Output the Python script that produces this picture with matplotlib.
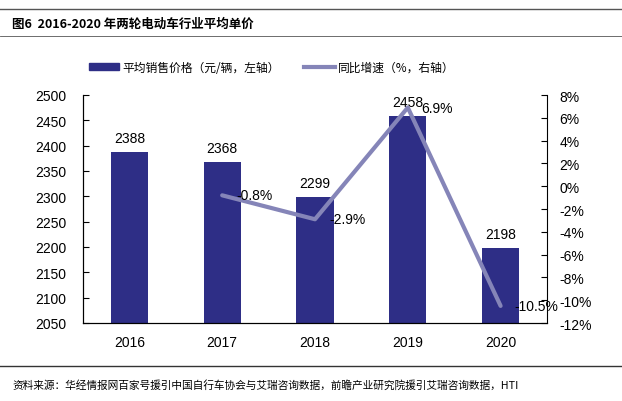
import matplotlib
matplotlib.use("Agg")
import matplotlib.pyplot as plt
from matplotlib.lines import Line2D
from matplotlib.patches import Patch

plt.rcParams['font.family'] = ['Liberation Sans', 'Noto Sans CJK SC', 'DejaVu Sans']
CJK = ['Noto Sans CJK SC', 'DejaVu Sans']

years = ["2016", "2017", "2018", "2019", "2020"]
price = [2388, 2368, 2299, 2458, 2198]
growth_years = ["2017", "2018", "2019", "2020"]
growth = [-0.8, -2.9, 6.9, -10.5]

BAR = "#2E2E86"
LINE = "#8585B8"

fig = plt.figure(figsize=(6.22, 4.02), dpi=100)
W, H = 622, 402
ax = fig.add_axes([83 / W, 1 - 324 / H, (547 - 83) / W, (324 - 96) / H])

x = list(range(len(years)))
bars = ax.bar(x, price, width=0.4, color=BAR, zorder=2)
ax.set_ylim(2050, 2500)
ax.set_yticks(range(2050, 2501, 50))
ax.set_xlim(-0.5, len(years) - 0.5)
ax.set_xticks(x)
ax.set_xticklabels(years)
for b, v in zip(bars, price):
    ax.annotate(str(v), (b.get_x() + b.get_width() / 2, v), xytext=(0, 5),
                textcoords="offset points", ha="center", va="bottom", fontsize=10)

ax2 = ax.twinx()
gx = [years.index(y) for y in growth_years]
ax2.plot(gx, growth, color=LINE, lw=3, solid_capstyle="round", zorder=3)
ax2.set_ylim(-12, 8)
ax2.set_yticks(range(-12, 9, 2))
ax2.set_yticklabels([f"{t}%" for t in range(-12, 9, 2)])
for xi, v in zip(gx, growth):
    ax2.annotate(f"{v}%", (xi, v), xytext=(10, 0), textcoords="offset points",
                 ha="left", va="center", fontsize=10)

for a in (ax, ax2):
    a.spines["top"].set_visible(False)
    a.tick_params(axis="y", direction="in", length=4, labelsize=10)
    a.set_facecolor("none")
ax.tick_params(axis="y", pad=12)
ax2.tick_params(axis="y", pad=9)
ax.tick_params(axis="x", length=0, labelsize=10, pad=9)
ax.spines["right"].set_visible(False)

handles = [Patch(color=BAR), Line2D([0], [0], color=LINE, lw=3)]
labels = ["平均销售价格（元/辆，左轴）", "同比增速（%，右轴）"]
fig.legend(handles, labels, loc="center left", bbox_to_anchor=(78 / W, 1 - 68 / H),
           ncol=2, frameon=False, prop={"family": CJK, "size": 8.5},
           handlelength=2.6, handleheight=0.6, columnspacing=2.0, handletextpad=0.3)

# header / footer rules
fig.add_artist(Line2D([0, 1], [1 - 10 / H] * 2, color="#555555", lw=1))
fig.add_artist(Line2D([0, 1], [1 - 37 / H] * 2, color="#555555", lw=0.6))
fig.add_artist(Line2D([0, 1], [1 - 367 / H] * 2, color="#333333", lw=1))
fig.text(12 / W, 1 - 24 / H, "图6  2016-2020 年两轮电动车行业平均单价",
         fontsize=9, fontweight="bold", va="center", family=CJK)
fig.text(12 / W, 1 - 385 / H,
         "资料来源：华经情报网百家号援引中国自行车协会与艾瑞咨询数据，前瞻产业研究院援引艾瑞咨询数据，HTI",
         fontsize=7.7, va="center", family=CJK)

fig.savefig("out.png", dpi=100)
